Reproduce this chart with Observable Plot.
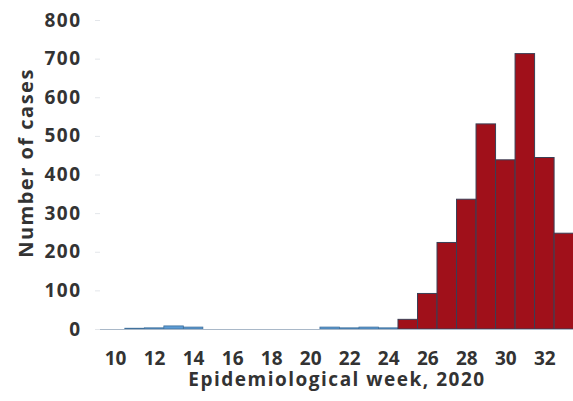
<!DOCTYPE html>
<html>
<head>
<meta charset="utf-8">
<script src="https://cdn.jsdelivr.net/npm/d3@7"></script>
<script src="https://cdn.jsdelivr.net/npm/@observablehq/plot@0.6"></script>
<style>
  html, body { margin: 0; padding: 0; background: #fff; }
  #chart { width: 573px; height: 401px; overflow: hidden; }
  #chart g[aria-label="text"] text { letter-spacing: 1.5px; }
  #chart g[aria-label="y-axis tick label"] text { letter-spacing: 1.5px; }
</style>
</head>
<body>
<div id="chart"></div>
<script>
const weeks = [10,11,12,13,14,15,16,17,18,19,20,21,22,23,24,25,26,27,28,29,30,31,32,33];
const earlyWeeks = [10,11,12,13,14,15,16,17,18,19,20,21,22,23,24];
const earlyCases = [0,2,3,8,5,0,0,0,0,0,0,5,3,5,3];
const lateWeeks = [25,26,27,28,29,30,31,32,33];
const lateCases = [25,92,224,336,531,438,713,444,248];
const xTicks = [10,12,14,16,18,20,22,24,26,28,30,32];
const yTicks = [0,100,200,300,400,500,600,700,800];

const early = earlyWeeks.map((w, i) => ({week: w, cases: earlyCases[i]}));
const late = lateWeeks.map((w, i) => ({week: w, cases: lateCases[i]}));

const font = "'Open Sans', Lato, sans-serif";

const chart = Plot.plot({
  width: 573,
  height: 401,
  marginLeft: 100,
  marginRight: 0,
  marginTop: 20,
  marginBottom: 72,
  style: {fontFamily: font, fontWeight: "bold", color: "#333", background: "#fff"},
  x: {type: "band", domain: weeks, range: [105.3, 573.6], padding: 0, round: false},
  y: {domain: [0, 800]},
  marks: [
    Plot.barY(early, {x: "week", y: "cases", fill: "#5b9bd5", stroke: "#41719c", strokeWidth: 0.8}),
    Plot.barY(late, {x: "week", y: "cases", fill: "#a0101a", stroke: "#3a3f55", strokeWidth: 1}),
    Plot.ruleY([0], {stroke: "#a9b8c8", strokeWidth: 1.2}),
    Plot.axisY({ticks: yTicks, tickSize: 5, tickPadding: 14, stroke: "#e3e6ea", fontSize: 19, fill: "#333", label: null}),
    Plot.axisX({ticks: xTicks, tickSize: 0, tickPadding: 22, fontSize: 19, fill: "#333", label: null}),
    Plot.text(["Number of cases"], {frameAnchor: "left", dx: -74, dy: -12, rotate: -90, fontSize: 20, fill: "#333", textAnchor: "middle"}),
    Plot.text(["Epidemiological week, 2020"], {frameAnchor: "bottom", dy: 56, fontSize: 19, fill: "#333", textAnchor: "middle"})
  ]
});
document.getElementById("chart").appendChild(chart);
</script>
</body>
</html>
